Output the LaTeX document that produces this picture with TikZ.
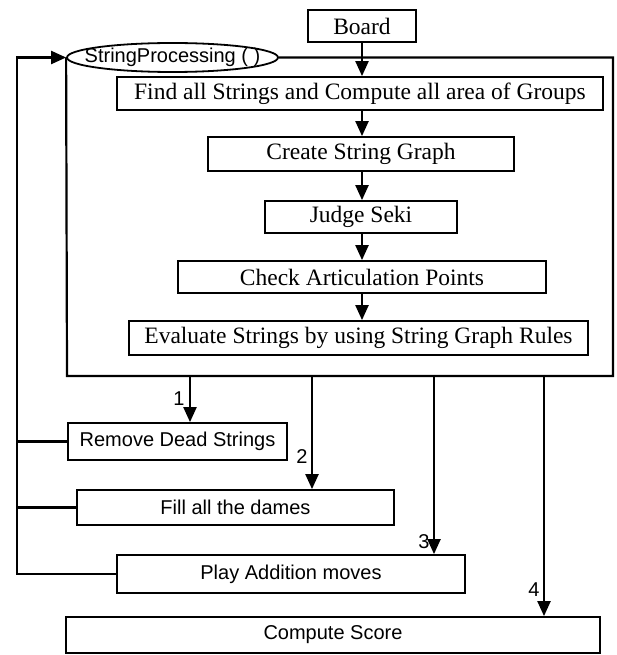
\documentclass[tikz,border=0pt]{standalone}
\usepackage{fontspec}
\setmainfont{Liberation Serif}
\newfontfamily\sansf{Liberation Sans}
\usetikzlibrary{arrows.meta,shapes.geometric}
\begin{document}
\begin{tikzpicture}[x=1pt,y=-1pt,
  serifbox/.style={draw,line width=1.8pt,inner sep=0pt,font=\fontsize{23.5}{26}\selectfont},
  sansbox/.style={draw,line width=1.8pt,inner sep=0pt,font=\sansf\fontsize{20}{24}\selectfont},
  conn/.style={line width=2.2pt},
  arr/.style={conn,-{Triangle[width=13pt,length=15pt]}},
  lbl/.style={font=\sansf\fontsize{20}{24}\selectfont,inner sep=0pt}]
\path[use as bounding box] (0,0) rectangle (617,655);
% top part
\node[serifbox,minimum width=108pt,minimum height=32pt] (board) at (362,26) {Board};
\node[draw,ellipse,line width=1.8pt,inner sep=0pt,minimum width=211pt,minimum height=29pt] (sp) at (172.5,57.5) {};
\node[font=\sansf\fontsize{20}{24}\selectfont,inner sep=0pt] (sptext) at (sp.center) {StringProcessing ( )};
\node[serifbox,minimum width=486pt,minimum height=33pt] (find) at (360,93.5) {Find all Strings and Compute all area of Groups};
\node[serifbox,minimum width=306pt,minimum height=34pt] (create) at (361,154) {Create String Graph};
\node[serifbox,minimum width=192pt,minimum height=32pt] (judge) at (361,217) {Judge Seki};
\node[serifbox,minimum width=368pt,minimum height=32pt] (check) at (362,277) {Check Articulation Points};
\node[serifbox,minimum width=459pt,minimum height=34pt] (eval) at (358.5,338) {Evaluate Strings by using String Graph Rules};
% container
\coordinate (ctr) at (613,57.5);
\coordinate (cbr) at (613,376);
\coordinate (cbl) at (67,376);
\draw[conn] (sp.east) -- (ctr) -- (cbr) -- (cbl) -- (sp.west);
% inner arrows
\draw[arr] (board.south) -- (board.south |- find.north);
\draw[arr] (find.south -| board.south) -- (board.south |- create.north);
\draw[arr] (create.south -| board.south) -- (board.south |- judge.north);
\draw[arr] (judge.south -| board.south) -- (board.south |- check.north);
\draw[arr] (check.south -| board.south) -- (board.south |- eval.north);
% bottom boxes
\node[sansbox,minimum width=219pt,minimum height=37pt] (remove) at (177.5,441.5) {Remove Dead Strings};
\node[sansbox,minimum width=317pt,minimum height=35pt] (fill) at (235.5,507.5) {Fill all the dames};
\node[sansbox,minimum width=348pt,minimum height=38pt] (play) at (291,574) {Play Addition moves};
\node[sansbox,minimum width=534pt,minimum height=36pt] (score) at (333,635) {Compute Score};
% outgoing arrows
\coordinate (b1) at (190,376);
\coordinate (b2) at (312,376);
\coordinate (b3) at (434,376);
\coordinate (b4) at (544,376);
\draw[arr] (b1) -- (b1 |- remove.north);
\draw[arr] (b2) -- (b2 |- fill.north);
\draw[arr] (b3) -- (b3 |- play.north);
\draw[arr] (b4) -- (b4 |- score.north);
\node[lbl] (l1) at (179,399) {1};
\node[lbl] (l2) at (302,457) {2};
\node[lbl] (l3) at (424,542) {3};
\node[lbl] (l4) at (534,590) {4};
% loop
\coordinate (L) at (17,57.5);
\draw[arr] (play.west) -| (L) -- (sp.west);
\draw[conn] (remove.west) -- (remove.west -| L);
\draw[conn] (fill.west) -- (fill.west -| L);
\end{tikzpicture}
\end{document}
